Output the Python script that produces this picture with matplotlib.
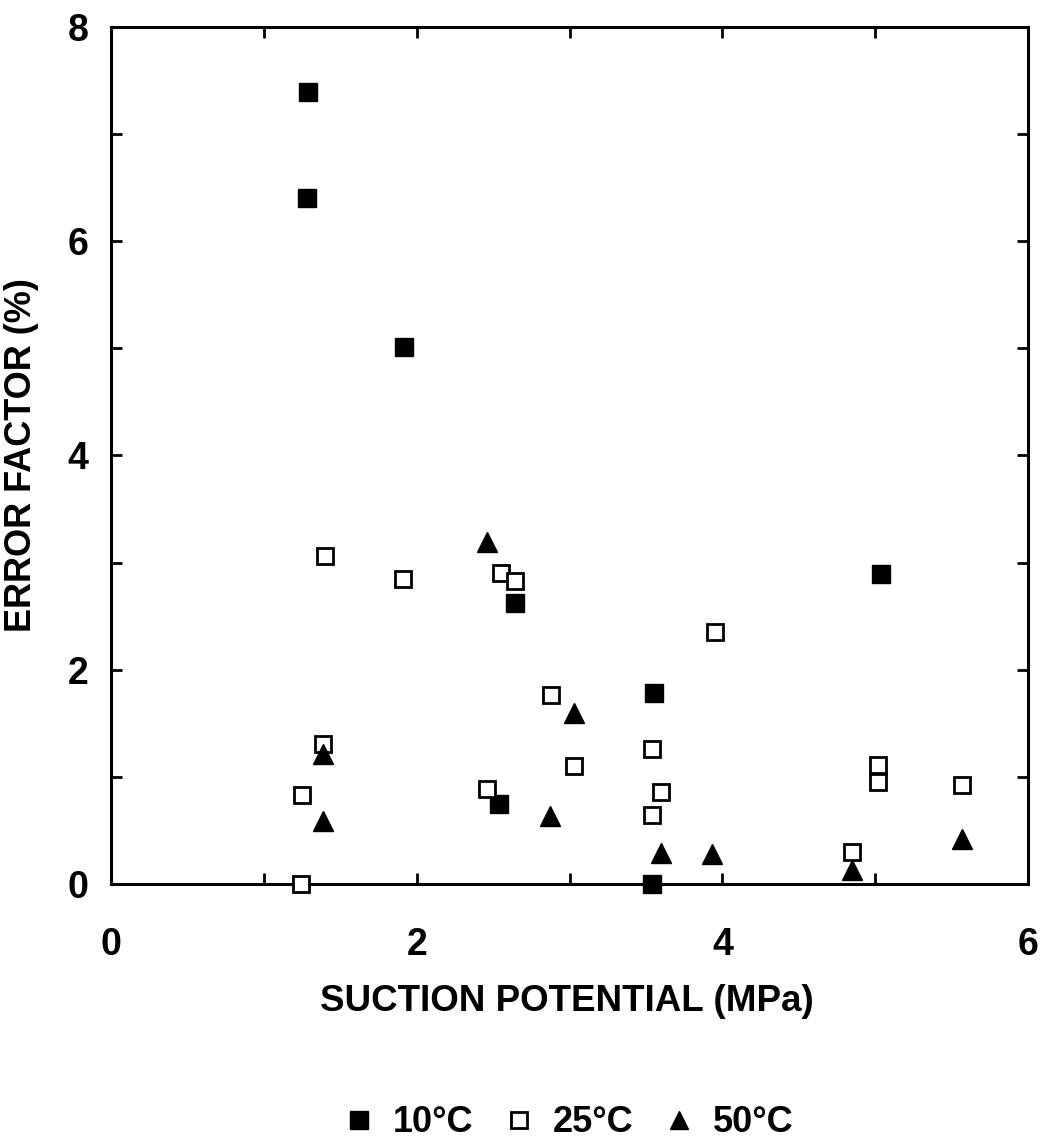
import numpy as np
import matplotlib
matplotlib.use("Agg")
import matplotlib.pyplot as plt
from matplotlib.lines import Line2D

plt.rcParams['font.family'] = ['Liberation Sans', 'DejaVu Sans']
plt.rcParams['font.weight'] = 'bold'

# 10 C (filled squares)
x10 = [1.29, 1.28, 1.92, 2.64, 2.54, 3.55, 3.54, 5.04]
y10 = [7.39, 6.40, 5.01, 2.62, 0.75, 1.78, 0.0, 2.89]

# 25 C (open squares)
x25 = [1.40, 1.91, 2.55, 2.64, 2.88, 3.03, 1.39, 1.25, 2.46, 1.24,
       3.95, 3.54, 3.60, 3.54, 5.02, 5.02, 5.57, 4.85]
y25 = [3.06, 2.85, 2.90, 2.83, 1.76, 1.10, 1.31, 0.83, 0.89, 0.0,
       2.35, 1.26, 0.86, 0.64, 1.11, 0.95, 0.92, 0.30]

# 50 C (triangles)
x50 = [2.46, 3.03, 1.39, 1.39, 2.87, 3.60, 3.93, 4.85, 5.57]
y50 = [3.19, 1.60, 1.21, 0.59, 0.63, 0.29, 0.28, 0.13, 0.42]

labels = ['10°C', '25°C', '50°C']

fig = plt.figure(figsize=(10.41, 11.40), dpi=100)
ax = fig.add_axes([0.1066, 0.2246, 0.8810, 0.7518])

ax.plot(x10, y10, linestyle='', marker='s', markersize=13.5,
        color='black', clip_on=False, zorder=3)
ax.plot(x25, y25, linestyle='', marker='s', markersize=12,
        markerfacecolor='white', markeredgecolor='black', markeredgewidth=2,
        clip_on=False, zorder=3)
ax.plot(x50, y50, linestyle='', marker='^', markersize=14,
        color='black', clip_on=False, zorder=3)

ax.set_xlim(0, 6)
ax.set_ylim(0, 8)
ax.set_xticks(np.arange(0, 7, 2))
ax.set_xticks(np.arange(0, 7, 1), minor=True)
ax.set_yticks(np.arange(0, 9, 2))
ax.set_yticks(np.arange(0, 9, 1), minor=True)

for s in ax.spines.values():
    s.set_linewidth(2.2)

ax.tick_params(which='both', direction='in', top=True, right=True,
               length=8, width=2)
ax.tick_params(axis='x', which='major', pad=31, labelsize=27)
ax.tick_params(axis='y', which='major', pad=16, labelsize=27)

ax.set_xlabel('SUCTION POTENTIAL (MPa)', fontsize=26.5, fontweight='bold')
ax.set_ylabel('ERROR FACTOR (%)', fontsize=26, fontweight='bold')
ax.xaxis.set_label_coords(0.497, -0.117)
ax.yaxis.set_label_coords(-0.078, 0.5)

handles = [
    Line2D([], [], linestyle='', marker='s', markersize=13, color='black'),
    Line2D([], [], linestyle='', marker='s', markersize=11,
           markerfacecolor='white', markeredgecolor='black', markeredgewidth=2),
    Line2D([], [], linestyle='', marker='^', markersize=13.5, color='black'),
]
fig.legend(handles, labels, loc='center', bbox_to_anchor=(0.545, 1 - 1123 / 1140),
           ncol=3, frameon=False, prop={'size': 26, 'weight': 'bold'},
           handlelength=1.0, handletextpad=0.42, columnspacing=0.78)

plt.savefig('out.png', dpi=100)
plt.close()
